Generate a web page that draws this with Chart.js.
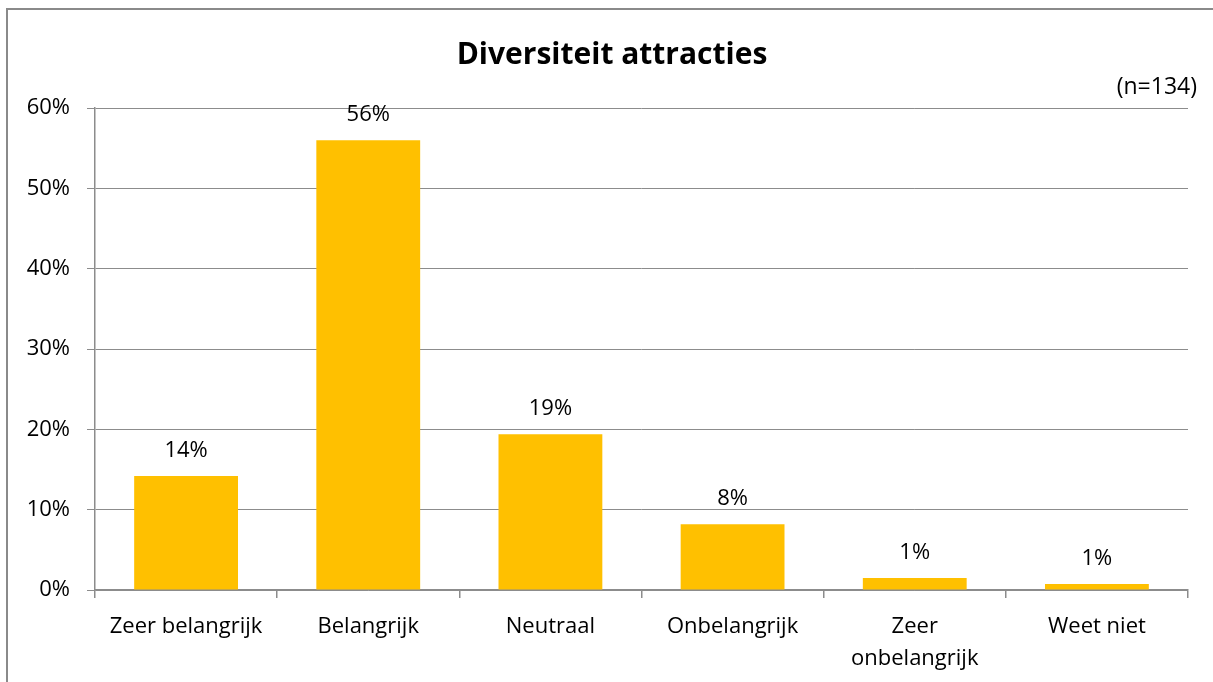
<!DOCTYPE html>
<html lang="nl">

<head>
    <meta charset="UTF-8">
    <title>Diversiteit attracties</title>
    <style>
        html, body { margin: 0; padding: 0; background: #fff; overflow: hidden; }
        .frame {
            position: absolute; left: 6px; top: 8px;
            width: 1400px; height: 900px;
            border: 2px solid #8a8a8a;
        }
        #chart { position: absolute; left: 0; top: 0; }
    </style>
</head>

<body>
    <div class="frame"></div>
    <canvas id="chart" width="1213" height="682"></canvas>

    <script src="https://cdn.jsdelivr.net/npm/chart.js"></script>
    <script>
        // Data (n=134)
        const categories = ['Zeer belangrijk', 'Belangrijk', 'Neutraal', 'Onbelangrijk', ['Zeer', 'onbelangrijk'], 'Weet niet'];
        const shares = [14.2, 56.0, 19.4, 8.2, 1.5, 0.75];
        const shareLabels = ['14%', '56%', '19%', '8%', '1%', '1%'];
        const yTicks = [0, 10, 20, 30, 40, 50, 60];
        const chartTitle = 'Diversiteit attracties';
        const sampleNote = '(n=134)';

        const gridGray = '#8c8c8c';
        const font = 'Open Sans';

        // Title, (n=...) note and the value labels above the bars
        const textLayer = {
            id: 'textLayer',
            afterDatasetsDraw(chart) {
                const ctx = chart.ctx;
                const meta = chart.getDatasetMeta(0);
                ctx.save();
                ctx.fillStyle = '#000';
                ctx.font = '22px "' + font + '"';
                ctx.textAlign = 'center';
                ctx.textBaseline = 'alphabetic';
                meta.data.forEach((bar, i) => {
                    ctx.fillText(shareLabels[i], bar.x, bar.y - 19);
                });
                ctx.textAlign = 'right';
                ctx.font = '23px "' + font + '"';
                ctx.fillText(sampleNote, chart.chartArea.right + 9, 94);
                ctx.textAlign = 'center';
                ctx.font = 'bold 30px "' + font + '"';
                ctx.fillText(chartTitle, 612, 64);
                ctx.restore();
            }
        };

        new Chart(document.getElementById('chart'), {
            type: 'bar',
            data: {
                labels: categories,
                datasets: [{
                    data: shares,
                    backgroundColor: '#FFC000',
                    borderWidth: 0,
                    barPercentage: 0.57,
                    categoryPercentage: 1
                }]
            },
            options: {
                responsive: false,
                animation: false,
                layout: { padding: { left: 0, right: 25, top: 108, bottom: 0 } },
                plugins: {
                    legend: { display: false },
                    tooltip: { enabled: false },
                    title: { display: false }
                },
                scales: {
                    x: {
                        grid: {
                            offset: true,
                            drawOnChartArea: false,
                            drawTicks: true,
                            tickLength: 8,
                            color: gridGray,
                            lineWidth: 1.5
                        },
                        border: { color: gridGray, width: 1.5 },
                        ticks: {
                            color: '#000',
                            padding: 13,
                            maxRotation: 0,
                            autoSkip: false,
                            font: { family: font, size: 22, lineHeight: 1.45 }
                        },
                        afterFit(scale) { scale.height = 92; }
                    },
                    y: {
                        min: 0,
                        max: 60,
                        afterBuildTicks(scale) {
                            scale.ticks = yTicks.map(v => ({ value: v }));
                        },
                        grid: {
                            color: gridGray,
                            lineWidth: 1,
                            drawTicks: true,
                            tickLength: 8
                        },
                        border: { color: gridGray, width: 1.5 },
                        ticks: {
                            color: '#000',
                            padding: 17,
                            font: { family: font, size: 22 },
                            callback: v => v + '%'
                        },
                        afterFit(scale) { scale.width = 95; }
                    }
                }
            },
            plugins: [textLayer]
        });
    </script>
</body>

</html>
